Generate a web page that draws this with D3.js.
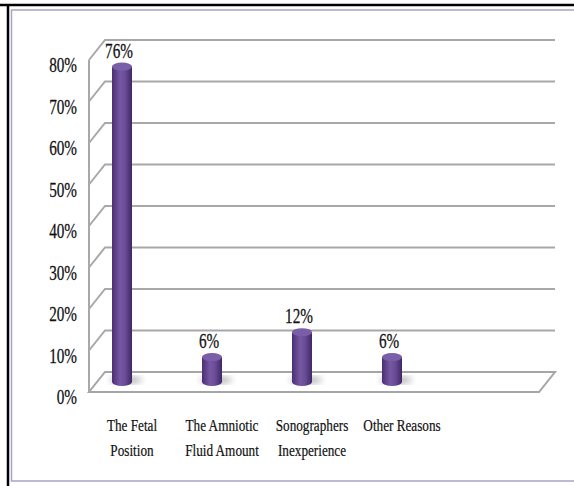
<!DOCTYPE html>
<html>
<head>
<meta charset="utf-8">
<script src="https://cdn.jsdelivr.net/npm/d3@7"></script>
<style>
  body { margin: 0; background: #fff; }
  svg { display: block; }
</style>
</head>
<body>
<svg id="chart" width="574" height="486"></svg>
<script>
// chart values
const categories = ["The Fetal Position", "The Amniotic Fluid Amount", "Sonographers Inexperience", "Other Reasons", ""];
const labelLines = [["The Fetal", "Position"], ["The Amniotic", "Fluid Amount"], ["Sonographers", "Inexperience"], ["Other Reasons"]];
const values = [76, 6, 12, 6];
const yTicks = [0, 10, 20, 30, 40, 50, 60, 70, 80];

const W = 574, H = 486;
const svg = d3.select("#chart");
const font = "'Liberation Serif', 'DejaVu Serif', serif";

// depth of the 3d box
const dx = 16, dy = 20;

// back wall scales
const y = d3.scaleLinear().domain([0, 80]).range([372, 40]);
const xBack = [105, 555];

// bar positions (mid depth)
const x = d3.scalePoint().domain(categories).range([122, 482]);

// frame
svg.append("line").attr("x1", 0).attr("x2", W).attr("y1", 5).attr("y2", 5)
  .attr("stroke", "#000").attr("stroke-width", 2.5);
svg.append("line").attr("x1", 8).attr("x2", 8).attr("y1", 4).attr("y2", H)
  .attr("stroke", "#000").attr("stroke-width", 2.5);
svg.append("path")
  .attr("d", `M${W},10 H11.5 V481 H${W}`)
  .attr("fill", "none").attr("stroke", "#aaa3c4").attr("stroke-width", 1.5);

const defs = svg.append("defs");
const grad = defs.append("linearGradient").attr("id", "cyl").attr("x1", 0).attr("x2", 1).attr("y1", 0).attr("y2", 0);
grad.append("stop").attr("offset", "0%").attr("stop-color", "#4a2f72");
grad.append("stop").attr("offset", "40%").attr("stop-color", "#7657a3");
grad.append("stop").attr("offset", "65%").attr("stop-color", "#6a4c97");
grad.append("stop").attr("offset", "100%").attr("stop-color", "#3f2864");
defs.append("filter").attr("id", "blur").append("feGaussianBlur").attr("stdDeviation", 3);

const g = svg.append("g");

// floor
const y0 = y(0);
g.append("path")
  .attr("d", `M${xBack[0]},${y0} H${xBack[1]} L${xBack[1] - dx},${y0 + dy} H${xBack[0] - dx} Z`)
  .attr("fill", "none").attr("stroke", "#a5a5a5").attr("stroke-width", 2);

// grid lines on back and left walls
const grid = yTicks.filter(d => d > 0);
g.selectAll(".grid").data(grid).join("path")
  .attr("class", "grid")
  .attr("d", d => `M${xBack[1]},${y(d)} H${xBack[0]} L${xBack[0] - dx},${y(d) + dy}`)
  .attr("fill", "none").attr("stroke", "#a8a8a8").attr("stroke-width", 2);

// left axis line
g.append("line")
  .attr("x1", xBack[0] - dx).attr("x2", xBack[0] - dx)
  .attr("y1", y(80) + dy).attr("y2", y0 + dy)
  .attr("stroke", "#a8a8a8").attr("stroke-width", 2);

// y tick labels
g.selectAll(".ytick").data(yTicks).join("text")
  .attr("class", "ytick")
  .attr("transform", d => `translate(77,${y(d) + dy + 12}) scale(0.8,1.05)`)
  .attr("text-anchor", "end")
  .attr("font-family", font).attr("font-size", 19).attr("fill", "#111")
  .attr("stroke", "#111").attr("stroke-width", 0.25)
  .text(d => d + "%");

// bars as cylinders
const rx = 10, ry = 4;
const base = y0 + dy / 2;
const bars = g.selectAll(".bar").data(values).join("g").attr("class", "bar");

bars.append("ellipse")
  .attr("cx", (d, i) => x(categories[i]) + 4)
  .attr("cy", base - 2)
  .attr("rx", 16).attr("ry", 4)
  .attr("fill", "#888").attr("opacity", 0.6).attr("filter", "url(#blur)");

bars.append("path")
  .attr("d", (d, i) => {
    const cx = x(categories[i]);
    const top = y(d) + dy / 2;
    return `M${cx - rx},${top} V${base} A${rx},${ry} 0 0 0 ${cx + rx},${base} V${top} Z`;
  })
  .attr("fill", "url(#cyl)");

bars.append("ellipse")
  .attr("cx", (d, i) => x(categories[i]))
  .attr("cy", d => y(d) + dy / 2)
  .attr("rx", rx).attr("ry", ry)
  .attr("fill", "#7b5ea8");

// value labels
bars.append("text")
  .attr("transform", (d, i) => `translate(${x(categories[i]) - 3},${y(d) + dy / 2 - 9}) scale(0.8,1.05)`)
  .attr("text-anchor", "middle")
  .attr("font-family", font).attr("font-size", 19).attr("fill", "#111")
  .attr("stroke", "#111").attr("stroke-width", 0.25)
  .text(d => d + "%");

// category labels
const cats = g.selectAll(".cat").data(labelLines).join("text")
  .attr("class", "cat")
  .attr("transform", (d, i) => `translate(${x(categories[i]) + 10},431) scale(0.8,1.05)`)
  .attr("text-anchor", "middle")
  .attr("font-family", font).attr("font-size", 16.5).attr("fill", "#111")
  .attr("stroke", "#111").attr("stroke-width", 0.2);
cats.selectAll("tspan").data(d => d).join("tspan")
  .attr("x", 0).attr("dy", (d, i) => i === 0 ? 0 : 23.5)
  .text(d => d);
</script>
</body>
</html>
